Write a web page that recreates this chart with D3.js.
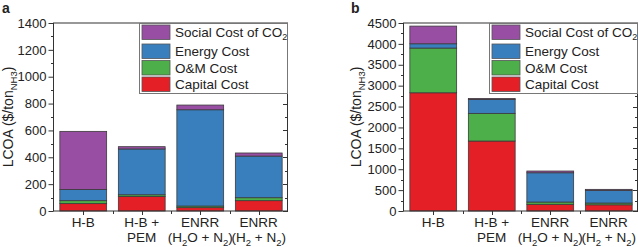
<!DOCTYPE html>
<html>
<head>
<meta charset="utf-8">
<script src="https://cdn.jsdelivr.net/npm/d3@7"></script>
<style>
  body { margin: 0; background: #fff; }
  svg text { font-family: Arial, "Liberation Sans", sans-serif; fill: #222; }
</style>
</head>
<body>
<svg id="chart" width="638" height="247"></svg>
<script>
'use strict';

// categories (two-line labels), series order is bottom -> top
var categories = ["H-B", "H-B + PEM", "ENRR H2O", "ENRR H2"];
var seriesKeys = ["capital", "om", "energy", "social"];
var seriesNames = ["Capital Cost", "O&M Cost", "Energy Cost", "Social Cost of CO2"];
var seriesColors = ["#e41f26", "#4daf4a", "#3a7fbd", "#984ea3"];

// panel a values ($/ton NH3)
var capitalA = [55, 108, 25, 77];
var omA      = [22, 13, 12, 22];
var energyA  = [83, 341, 717, 310];
var socialA  = [433, 17, 35, 23];

// panel b values ($/ton NH3)
var capitalB = [2830, 1675, 160, 148];
var omB      = [1070, 662, 55, 43];
var energyB  = [103, 334, 700, 303];
var socialB  = [423, 24, 42, 24];

var ticksA = [0, 200, 400, 600, 800, 1000, 1200, 1400];
var ticksB = [0, 500, 1000, 1500, 2000, 2500, 3000, 3500, 4000, 4500];

function rows(cap, om, en, so) {
  return categories.map(function (c, i) {
    return { cat: c, capital: cap[i], om: om[i], energy: en[i], social: so[i] };
  });
}

var svg = d3.select("#chart");

function xLabel(g, cat, x) {
  var t = g.append("text").attr("text-anchor", "middle").attr("font-size", 13.5);
  function line(y) { return t.append("tspan").attr("x", x).attr("y", y); }
  function sub(el, s) { el.append("tspan").attr("font-size", 9.5).attr("dy", 3.5).text(s); }
  function back(el, s) { el.append("tspan").attr("dy", -3.5).text(s); }
  if (cat === "H-B") {
    line(227).text("H-B");
  } else if (cat === "H-B + PEM") {
    line(227).text("H-B +");
    line(242).text("PEM");
  } else if (cat === "ENRR H2O") {
    line(227).text("ENRR");
    var l = line(242); l.text("(H");
    sub(l, "2"); back(l, "O + N"); sub(l, "2"); back(l, ")");
  } else {
    line(227).text("ENRR");
    var l2 = line(242); l2.text("(H");
    sub(l2, "2"); back(l2, " + N"); sub(l2, "2"); back(l2, ")");
  }
}

function panel(opt) {
  var g = svg.append("g");
  var data = rows.apply(null, opt.values);
  var x = d3.scaleBand().domain(categories).range([opt.x0, opt.x1]).paddingInner(0.2).paddingOuter(0.1);
  var y = d3.scaleLinear().domain([0, opt.max]).range([opt.bottom, opt.top]);
  var stack = d3.stack().keys(seriesKeys)(data);

  // bars
  g.selectAll("g.layer").data(stack).enter().append("g")
    .attr("fill", function (d, i) { return seriesColors[i]; })
    .selectAll("rect").data(function (d) { return d; }).enter().append("rect")
    .attr("x", function (d) { return x(d.data.cat); })
    .attr("width", x.bandwidth())
    .attr("y", function (d) { return y(d[1]); })
    .attr("height", function (d) { return y(d[0]) - y(d[1]); })
    .attr("stroke", "#3a3a3a").attr("stroke-width", 0.8);

  // frame
  g.append("rect")
    .attr("x", opt.x0 - 0.5).attr("y", opt.top)
    .attr("width", opt.x1 - opt.x0).attr("height", opt.bottom - opt.top)
    .attr("fill", "none").attr("stroke", "#333").attr("stroke-width", 1);

  // left axis
  var left = g.append("g").attr("transform", "translate(" + (opt.x0 - 0.5) + ",0)")
    .call(d3.axisLeft(y).tickValues(opt.ticks).tickFormat(d3.format("d")).tickSize(5).tickPadding(2));
  left.select(".domain").remove();
  left.selectAll("line").attr("stroke", "#333");
  left.selectAll("text").attr("font-size", 13).attr("fill", "#222")
    .attr("font-family", "Arial, 'Liberation Sans', sans-serif");
  var minor = d3.range(opt.step / 2, opt.max, opt.step);
  g.selectAll("line.minl").data(minor).enter().append("line")
    .attr("x1", opt.x0 - 3).attr("x2", opt.x0)
    .attr("y1", function (d) { return Math.round(y(d)) + 0.5; })
    .attr("y2", function (d) { return Math.round(y(d)) + 0.5; })
    .attr("stroke", "#333");

  // right inward ticks
  g.selectAll("line.rmaj").data(opt.ticks).enter().append("line")
    .attr("x1", opt.x1 - 5).attr("x2", opt.x1)
    .attr("y1", function (d) { return Math.round(y(d)) + 0.5; })
    .attr("y2", function (d) { return Math.round(y(d)) + 0.5; })
    .attr("stroke", "#333");
  g.selectAll("line.rmin").data(minor).enter().append("line")
    .attr("x1", opt.x1 - 3).attr("x2", opt.x1)
    .attr("y1", function (d) { return Math.round(y(d)) + 0.5; })
    .attr("y2", function (d) { return Math.round(y(d)) + 0.5; })
    .attr("stroke", "#333");

  // bottom ticks at band centres and band boundaries
  var centres = categories.map(function (c) { return x(c) + x.bandwidth() / 2; });
  var bounds = categories.slice(1).map(function (c) { return x(c) - x.step() * x.paddingInner() / 2; });
  g.selectAll("line.bc").data(centres).enter().append("line")
    .attr("x1", function (d) { return Math.round(d) + 0.5; })
    .attr("x2", function (d) { return Math.round(d) + 0.5; })
    .attr("y1", opt.bottom).attr("y2", opt.bottom + 4)
    .attr("stroke", "#333");
  g.selectAll("line.bt").data(bounds).enter().append("line")
    .attr("x1", function (d) { return Math.round(d) + 0.5; })
    .attr("x2", function (d) { return Math.round(d) + 0.5; })
    .attr("y1", opt.bottom).attr("y2", opt.bottom + 3)
    .attr("stroke", "#333");

  categories.forEach(function (c) { xLabel(g, c, x(c) + x.bandwidth() / 2); });

  // y title
  var yt = g.append("text").attr("text-anchor", "middle").attr("font-size", 14)
    .attr("transform", "translate(" + opt.ylabX + "," + ((opt.top + opt.bottom) / 2) + ") rotate(-90)");
  yt.append("tspan").text("LCOA ($/ton");
  yt.append("tspan").attr("font-size", 9.5).attr("dy", 3.5).text("NH3");
  yt.append("tspan").attr("dy", -3.5).text(")");

  // panel letter
  g.append("text").attr("x", opt.letterX).attr("y", 13)
    .attr("font-size", 14).attr("font-weight", "bold").text(opt.letter);

  // legend
  var lg = g.append("g");
  var lx = opt.legX;
  lg.append("rect").attr("x", lx + 0.5).attr("y", opt.top + 0.5)
    .attr("width", opt.x1 - lx - 1).attr("height", 70)
    .attr("fill", "#fff").attr("stroke", "#777").attr("stroke-width", 1);
  var order = [3, 2, 1, 0];
  var rowY = [opt.top + 2, opt.top + 21, opt.top + 37.5, opt.top + 54];
  order.forEach(function (si, r) {
    lg.append("rect").attr("x", lx + 3).attr("y", rowY[r])
      .attr("width", 28).attr("height", 14.5)
      .attr("fill", seriesColors[si]).attr("stroke", "#555").attr("stroke-width", 0.8);
    var t = lg.append("text").attr("x", lx + 36).attr("y", rowY[r] + 12).attr("font-size", 13.5);
    if (si === 3) {
      t.append("tspan").text("Social Cost of CO");
      t.append("tspan").attr("font-size", 9).attr("dy", 3).text("2");
    } else {
      t.text(seriesNames[si]);
    }
  });
}

panel({
  values: [capitalA, omA, energyA, socialA],
  x0: 54, x1: 288, top: 23, bottom: 211, max: 1400, step: 200,
  ticks: ticksA, ylabX: 13, letter: "a", letterX: 2, legX: 139
});

panel({
  values: [capitalB, omB, energyB, socialB],
  x0: 404, x1: 638, top: 23, bottom: 211, max: 4500, step: 500,
  ticks: ticksB, ylabX: 361, letter: "b", letterX: 351, legX: 489
});
</script>
</body>
</html>
